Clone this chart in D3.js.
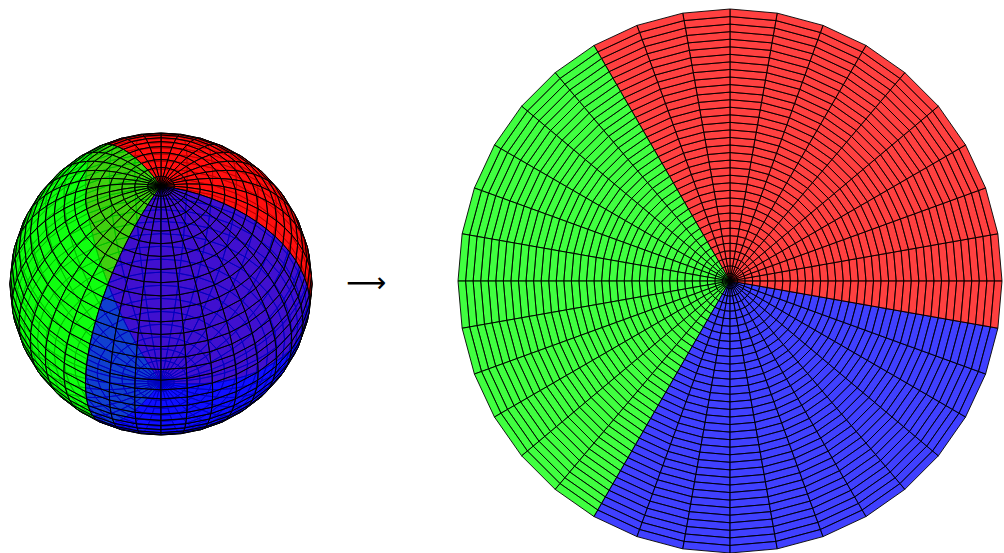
<!DOCTYPE html>
<html><head><meta charset="utf-8">
<script src="https://cdn.jsdelivr.net/npm/d3@7"></script>
<style>html,body{margin:0;padding:0;background:#fff;overflow:hidden}svg{display:block}</style>
</head><body><script>
const sectorNames = ["red","green","blue"];
const sectorStartDeg = [-10,120,240];
const sectorEndDeg = [120,240,350];
const sectorColors = ["#ff0000","#00ff00","#0000ff"];
const meridianCount = 36;
const ringCount = 36;
const arrowLabel = ["\u27F6"];

const W=1004,H=553;
const svg=d3.select("body").append("svg").attr("width",W).attr("height",H);
const angle=d3.scaleLinear().domain([0,meridianCount]).range([0,360]);
const colat=d3.scaleLinear().domain([0,ringCount]).range([0,180]);
const color=d3.scaleOrdinal().domain(sectorNames).range(sectorColors);
const rad=d=>d*Math.PI/180;
const sectorOf=a=>{const t=((a%360)+360)%360;
  for(let k=0;k<3;k++){const s=sectorStartDeg[k],e=sectorEndDeg[k];
    const v=t<s?t+360:t; if(v>=s&&v<e)return sectorNames[k];
    const w=t-360; if(w>=s&&w<e)return sectorNames[k];}
  return sectorNames[0];};
const cells=[];
d3.range(meridianCount).forEach(i=>d3.range(ringCount).forEach(j=>cells.push({i,j,name:sectorOf(angle(i+0.5))})));
const corners=c=>[[c.i,c.j],[c.i+1,c.j],[c.i+1,c.j+1],[c.i,c.j+1]];
const line=d3.line();

// flat disk
const dx=d3.scaleLinear().domain([-1,1]).range([730-272,730+272]);
const dy=d3.scaleLinear().domain([-1,1]).range([281+272,281-272]);
const diskPt=([i,j])=>{const a=rad(angle(i)),r=colat(j)/180;return [dx(r*Math.cos(a)),dy(r*Math.sin(a))];};
svg.append("g").selectAll("path").data(cells).join("path")
  .attr("d",c=>line(corners(c).map(diskPt))+"Z")
  .attr("fill",c=>color(c.name)).attr("fill-opacity",0.75)
  .attr("stroke","#000").attr("stroke-width",0.9).attr("stroke-linejoin","round");

// sphere
const elev=rad(49.5),lonOffset=90;
const sx=d3.scaleLinear().domain([-1,1]).range([161-151,161+151]);
const sy=d3.scaleLinear().domain([-1,1]).range([284+151,284-151]);
const sph=([i,j])=>{const l=rad(angle(i)+lonOffset),c=rad(colat(j));
  const px=Math.sin(c)*Math.sin(l),py=Math.sin(c)*Math.cos(l),pz=Math.cos(c);
  return {x:px,up:pz*Math.cos(elev)-py*Math.sin(elev),depth:pz*Math.sin(elev)+py*Math.cos(elev)};};
const faces=cells.map(c=>{const ps=corners(c).map(sph);return {c,ps,z:d3.mean(ps,p=>p.depth)};})
  .sort((a,b)=>d3.ascending(a.z,b.z));
svg.append("g").selectAll("path").data(faces).join("path")
  .attr("d",f=>line(f.ps.map(p=>[sx(p.x),sy(p.up)]))+"Z")
  .attr("fill",f=>color(f.c.name)).attr("fill-opacity",0.75)
  .attr("stroke","#000").attr("stroke-width",1).attr("stroke-linejoin","round");

svg.append("text").data(arrowLabel).attr("x",366).attr("y",283).attr("dy","0.33em")
  .attr("text-anchor","middle").attr("font-family","DejaVu Sans").attr("font-size",28)
  .attr("fill","#000").text(d=>d);
</script></body></html>
